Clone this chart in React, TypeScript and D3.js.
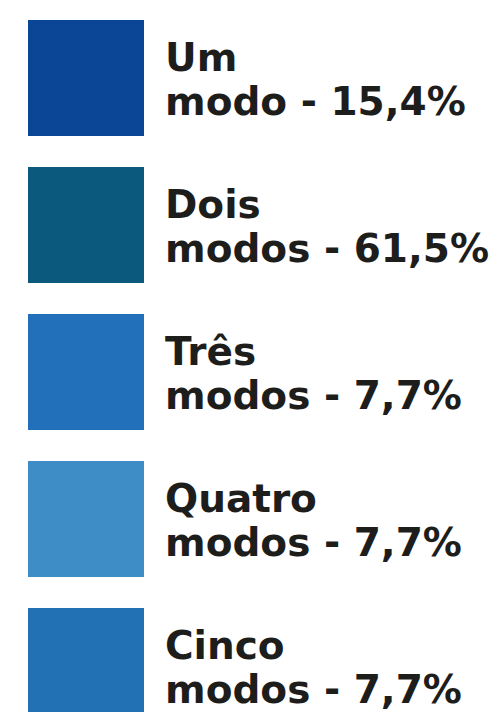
import { useEffect, useRef } from "react";
import * as d3 from "d3";

// legend entries, top to bottom
const labels = ["Um", "Dois", "Três", "Quatro", "Cinco"];
const units = ["modo", "modos", "modos", "modos", "modos"];
const shares = [15.4, 61.5, 7.7, 7.7, 7.7];
const colors = ["#0b4595", "#0b5a7e", "#2170b9", "#3f8dc6", "#2271b5"];

const W = 496;
const H = 712;

export default function App() {
  const ref = useRef<SVGSVGElement>(null);

  useEffect(() => {
    const svg = d3.select(ref.current);
    svg.selectAll("*").remove();

    const pt = d3.formatLocale({ decimal: ",", thousands: ".", grouping: [3], currency: ["", ""] });
    const fmt = pt.format(".1f");

    const size = 116;
    const y = d3.scaleLinear().domain([0, labels.length - 1]).range([20, 608]);

    const rows = svg.selectAll("g.row")
      .data(labels)
      .join("g")
      .attr("class", "row")
      .attr("transform", (_, i) => `translate(0, ${y(i)})`);

    rows.append("rect")
      .attr("x", 28)
      .attr("width", size)
      .attr("height", size)
      .attr("fill", (_, i) => colors[i]);

    const txt = rows.append("text")
      .style("font-family", "'DejaVu Sans', sans-serif")
      .style("font-weight", 700)
      .style("font-size", "39px")
      .attr("fill", "#1d1d1b");

    txt.append("tspan")
      .attr("x", 165)
      .attr("y", 51)
      .text(d => d);

    txt.append("tspan")
      .attr("x", 165)
      .attr("y", 95)
      .text((_, i) => `${units[i]} - ${fmt(shares[i])}%`);
  }, []);

  return (
    <svg ref={ref} width={W} height={H} style={{ position: "absolute", left: 0, top: 0, background: "#fff" }} />
  );
}
